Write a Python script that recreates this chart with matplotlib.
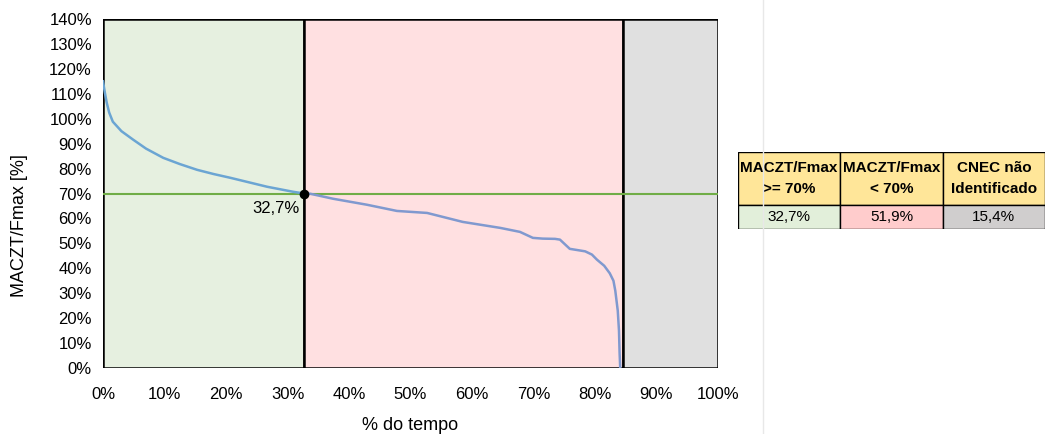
import matplotlib.pyplot as plt
from matplotlib.patches import Rectangle

plt.rcParams['font.family'] = ['Liberation Sans', 'DejaVu Sans']

# curve (% of time, MACZT/Fmax %)
tempo = [0, 0.3, 0.6, 1.0, 1.6, 3, 4.9, 7, 9.8, 12.5, 15.3, 18, 20.7, 23.7, 26.7, 30.9, 32.7,
         33.7, 37.4, 42.9, 47.8, 52.7, 58.5, 64.6, 67.8, 69.9, 71.5, 73.5, 74.3, 75.9,
         78.4, 79.5, 80.3, 81.5, 82.4, 83.0, 83.3, 83.7, 83.9, 84.0, 84.1]
maczt = [115, 110.5, 106.5, 102.5, 98.8, 95, 91.6, 88, 84.3, 81.8, 79.5, 77.8, 76.3, 74.5, 72.7, 70.7, 70,
         69.9, 67.9, 65.5, 63, 62.2, 58.6, 56.2, 54.6, 52.2, 51.9, 51.8, 51.5, 47.8,
         46.8, 45.5, 43.5, 41, 38, 35, 31, 23, 15, 6, 0]

limite = 70
corte = 32.7
faixas = [(0, 32.7), (32.7, 84.6), (84.6, 100)]
faixa_cores = ['#E6F0E0', '#FFE0E1', '#E0E0E0']

tab_cab = ['MACZT/Fmax\n>= 70%', 'MACZT/Fmax\n< 70%', 'CNEC não\nIdentificado']
tab_val = ['32,7%', '51,9%', '15,4%']
tab_cores = ['#E2EFDA', '#FFCCCC', '#D0CECE']

fig = plt.figure(figsize=(10.46, 4.34), dpi=100)
ax = fig.add_axes([103/1046, 1-368/434, 615/1046, 349/434])

for (a, b), c in zip(faixas, faixa_cores):
    ax.add_patch(Rectangle((a, 0), b - a, 140, facecolor=c, edgecolor='black', lw=1.8, zorder=1))

ax.axhline(limite, color='#70AD47', lw=1.5, zorder=2)
i = tempo.index(corte)
ax.plot(tempo[:i+1], maczt[:i+1], color='#6BA5D3', lw=1.8, zorder=3)
ax.plot(tempo[i:], maczt[i:], color='#8099CF', lw=1.8, zorder=3)
ax.plot([corte], [limite], 'o', color='black', ms=6, zorder=4)
ax.text(corte - 0.8, limite - 3, '32,7%', ha='right', va='top', fontsize=12)

ax.set_xlim(0, 100)
ax.set_ylim(0, 140)
ax.set_xticks(range(0, 101, 10))
ax.set_xticklabels([f'{v}%' for v in range(0, 101, 10)])
ax.set_yticks(range(0, 141, 10))
ax.set_yticklabels([f'{v}%' for v in range(0, 141, 10)])
ax.tick_params(length=0, labelsize=12, pad=8)
ax.tick_params(axis='x', pad=14)
for s in ax.spines.values():
    s.set_visible(False)
ax.set_xlabel('% do tempo', fontsize=13)
ax.xaxis.set_label_coords(0.5, -0.14)
ax.set_ylabel('MACZT/Fmax [%]', fontsize=13)
ax.yaxis.set_label_coords(-0.122, 0.407)

# faint spreadsheet gridline
fig.add_artist(plt.Line2D([763/1046, 763/1046], [0, 1], color='#E8E8E8', lw=1))

# summary table
tx = fig.add_axes([738/1046, 1-229/434, 307/1046, 77/434])
tx.set_xlim(0, 3)
tx.set_ylim(0, 77)
tx.axis('off')
for k in range(3):
    tx.add_patch(Rectangle((k, 24), 1, 53, facecolor='#FFE699', edgecolor='black', lw=1))
    tx.add_patch(Rectangle((k, 0), 1, 24, facecolor=tab_cores[k], edgecolor='black', lw=1))
    tx.text(k + 0.5, 50.5, tab_cab[k], ha='center', va='center', fontsize=11,
            fontweight='bold', linespacing=1.6)
    tx.text(k + 0.5, 12, tab_val[k], ha='center', va='center', fontsize=11)

fig.savefig('out.png', dpi=100)
